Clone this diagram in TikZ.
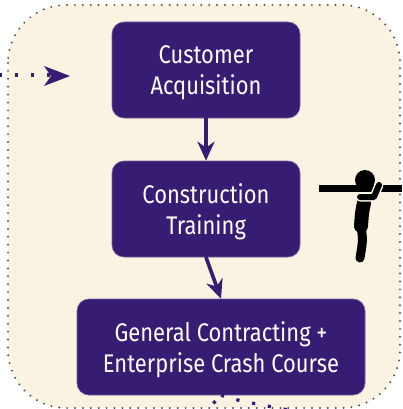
\documentclass[tikz,border=0pt]{standalone}
\usepackage{fontspec}
\newfontfamily\boxfont[FakeStretch=0.86]{Fira Sans}
\usetikzlibrary{arrows.meta}
\definecolor{cream}{HTML}{FBF3E1}
\definecolor{deeppurple}{HTML}{371C74}
\definecolor{rimgray}{HTML}{555555}
\begin{document}
\begin{tikzpicture}[x=1pt, y=-1pt, line cap=round, line join=round, >=Stealth,
  stage/.style={fill=deeppurple, draw=deeppurple!70!white, line width=0.6pt,
    rounded corners=12pt, inner sep=0pt},
  stagetext/.style={text=white, align=center, inner sep=0pt, yshift=-3pt,
    font=\boxfont\fontsize{25.5}{31}\selectfont},
  flow/.style={draw=deeppurple, line width=3.6pt,
    -{Stealth[length=19pt, width=17pt, inset=6pt]}},
  trail/.style={draw=deeppurple, line width=3.2pt, line cap=butt,
    dash pattern=on 3.2pt off 12.8pt}]
  \useasboundingbox (0,0) rectangle (402,409);
  \clip (0,0) rectangle (402,409);
  \draw [fill=cream, draw=rimgray, line width=2.2pt, dash pattern=on 0pt off 7.9pt,
    rounded corners=58pt] (8,5) rectangle (400,408);
  % the three stages
  \node [stage, minimum width=188pt, minimum height=96pt] (acq) at (206,70) {};
  \node [stage, minimum width=188pt, minimum height=96pt] (train) at (206,209) {};
  \node [stage, minimum width=288pt, minimum height=96pt] (crash) at (221,347) {};
  \node [stagetext] (acqtext) at (acq) {Customer\\Acquisition};
  \node [stagetext] (traintext) at (train) {Construction\\Training};
  \node [stagetext] (crashtext) at (crash) {General Contracting +\\Enterprise Crash Course};
  \draw [flow] (acq.south) -- (train.north);
  \draw [flow] (train.south) -- (crash.north);
  % dotted lines in and out
  \coordinate (inlet) at (-1,75);
  \coordinate (inlettip) at (70,76);
  \draw [trail] (inlet) -- (52,75);
  \fill [deeppurple] (inlettip) -- (44,66) -- (51,76) -- (44,86) -- cycle;
  \coordinate (outlet) at (305,413);
  \coordinate (outletleft) at (203,414);
  \draw [trail] (crash.south) .. controls (240,401) .. (outlet);
  \draw [trail, dash phase=8pt] (crash.south) -- (outletleft);
  % figure carrying a beam
  \fill [black] (319,184.5) rectangle (402,192);
  \fill [black] (365,180) circle (10pt);
  \draw [black, line width=14pt] (364,203) .. controls (362,212) .. (361,226);
  \draw [black, line width=9pt] (361,226) .. controls (363,240) .. (360,258);
  \draw [cream, line width=9pt] (360,197) -- (374,197) -- (379,185);
  \draw [black, line width=6pt] (360,197) -- (374,197) -- (379,185);
\end{tikzpicture}
\end{document}
